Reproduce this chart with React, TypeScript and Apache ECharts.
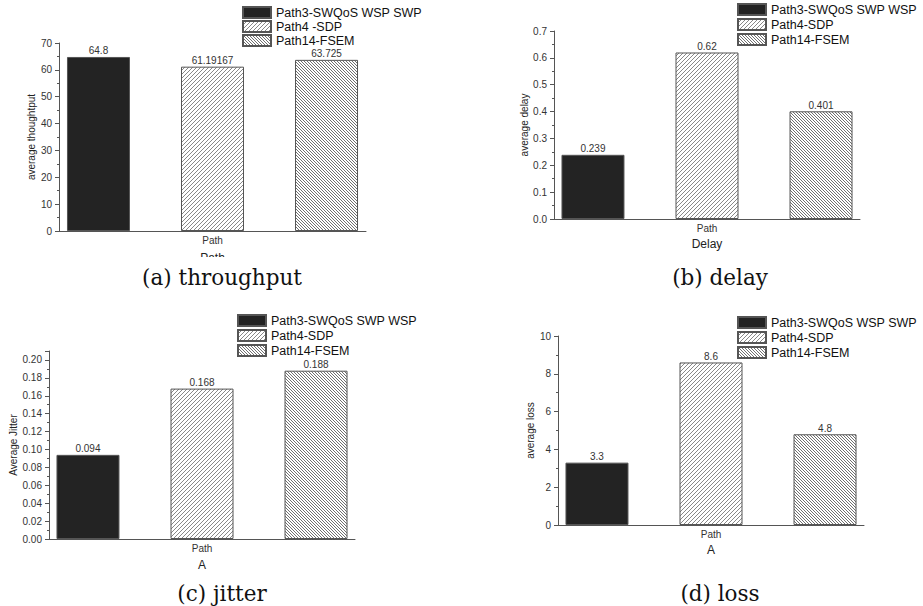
import React, { useEffect, useRef } from "react";
import * as echarts from "echarts";

const categories = ["Path"];
const legendA = ["Path3-SWQoS WSP SWP", "Path4 -SDP", "Path14-FSEM"];
const legendB = ["Path3-SWQoS SWP WSP", "Path4-SDP", "Path14-FSEM"];
const legendC = ["Path3-SWQoS SWP WSP", "Path4-SDP", "Path14-FSEM"];
const legendD = ["Path3-SWQoS WSP SWP", "Path4-SDP", "Path14-FSEM"];
const throughput = [64.8, 61.19167, 63.725];
const delay = [0.239, 0.62, 0.401];
const jitter = [0.094, 0.168, 0.188];
const loss = [3.3, 8.6, 4.8];
const yNames = ["average thoughtput", "average delay", "Average Jitter", "average loss"];
const xNames = ["Path", "Delay", "A", "A"];
const captions = ["(a) throughput", "(b) delay", "(c) jitter", "(d) loss"];

const SANS = "'Liberation Sans', Arial, sans-serif";
const SERIF = "'DejaVu Serif', 'Liberation Serif', serif";

const panels = [
  { left: 59, top: 43, width: 307, height: 188, max: 70, interval: 10, digits: 0, yGap: 21, xGap: 21, legend: legendA, legendPos: [242, 6], legendGap: 1, values: throughput, caption: [222, 277] },
  { left: 554, top: 31, width: 306, height: 188, max: 0.7, interval: 0.1, digits: 1, yGap: 25, xGap: 19, legend: legendB, legendPos: [737, 3], legendGap: 2, values: delay, caption: [720, 277] },
  { left: 49, top: 351, width: 306, height: 188, max: 0.21, interval: 0.02, digits: 2, yGap: 31, xGap: 20, legend: legendC, legendPos: [237, 314], legendGap: 2, values: jitter, caption: [222, 593] },
  { left: 558, top: 336, width: 306, height: 189, max: 10, interval: 2, digits: 0, yGap: 22, xGap: 19, legend: legendD, legendPos: [737, 316], legendGap: 2, values: loss, caption: [720, 593] },
];

function makeHatch(size: number, forward: boolean, ink: string): HTMLCanvasElement {
  const c = document.createElement("canvas");
  c.width = size;
  c.height = size;
  const ctx = c.getContext("2d")!;
  ctx.fillStyle = "#ffffff";
  ctx.fillRect(0, 0, size, size);
  ctx.fillStyle = ink;
  for (let i = 0; i < size; i++) {
    const x = forward ? size - 1 - i : i;
    ctx.fillRect(x, i, 1, 1);
  }
  return c;
}

export default function App() {
  const ref = useRef<HTMLDivElement>(null);
  useEffect(() => {
    if (!ref.current) return;
    const chart = echarts.init(ref.current, null, { renderer: "svg" });
    const axisColor = "#555";
    const hatchFwd = makeHatch(4, true, "#888888");
    const hatchBack = makeHatch(3, false, "#707070");
    const styles = [
      { color: "#232323", borderColor: "#555", borderWidth: 1 },
      { color: { image: hatchFwd, repeat: "repeat" }, borderColor: "#555", borderWidth: 1 },
      { color: { image: hatchBack, repeat: "repeat" }, borderColor: "#555", borderWidth: 1 },
    ];
    const option: any = {
      animation: false,
      backgroundColor: "#ffffff",
      textStyle: { fontFamily: SANS },
      grid: panels.map((p) => ({ left: p.left, top: p.top, width: p.width, height: p.height })),
      xAxis: panels.map((p, i) => ({
        type: "category",
        gridIndex: i,
        data: categories,
        name: xNames[i],
        nameLocation: "middle",
        nameGap: p.xGap,
        nameTextStyle: { fontSize: 12, color: "#222", fontFamily: SANS },
        axisLine: { lineStyle: { color: axisColor, width: 1 } },
        axisTick: { alignWithLabel: true, length: 4, lineStyle: { color: axisColor } },
        axisLabel: { margin: 4, fontSize: 10, color: "#333", fontFamily: SANS },
        splitLine: { show: false },
      })),
      yAxis: panels.map((p, i) => ({
        type: "value",
        gridIndex: i,
        min: 0,
        max: p.max,
        interval: p.interval,
        name: yNames[i],
        nameLocation: "middle",
        nameGap: p.yGap,
        nameTextStyle: { fontSize: 10, color: "#222", fontFamily: SANS },
        axisLine: { show: true, lineStyle: { color: axisColor, width: 1 } },
        axisTick: { show: true, length: 4, lineStyle: { color: axisColor } },
        minorTick: { show: true, splitNumber: 2, length: 2, lineStyle: { color: axisColor } },
        splitLine: { show: false },
        axisLabel: {
          fontSize: 10, color: "#333", margin: 7, fontFamily: SANS,
          showMaxLabel: i === 2 ? false : true,
          formatter: (v: number) => v.toFixed(p.digits),
        },
      })),
      legend: panels.map((p) => ({
        orient: "vertical",
        left: p.legendPos[0],
        top: p.legendPos[1],
        padding: 0,
        itemWidth: 28,
        itemHeight: 11,
        itemGap: p.legendGap,
        icon: "rect",
        data: p.legend,
        selectedMode: false,
        textStyle: { fontSize: 12.5, color: "#111", lineHeight: 11, fontFamily: SANS },
      })),
      series: panels.flatMap((p, i) =>
        p.values.map((v, k) => ({
          type: "bar",
          name: p.legend[k],
          xAxisIndex: i,
          yAxisIndex: i,
          data: [v],
          barWidth: 63,
          barGap: "81%",
          itemStyle: styles[k],
          label: { show: true, position: "top", distance: 1, fontSize: 10, color: "#333", fontFamily: SANS },
        }))
      ),
      graphic: [
        { type: "rect", z: 100, shape: { x: 185, y: 257, width: 55, height: 8 }, style: { fill: "#fff" } },
        ...panels.map((p, i) => ({
          type: "text",
          z: 101,
          x: p.caption[0],
          y: p.caption[1],
          style: { text: captions[i], fontSize: 21.5, fontFamily: SERIF, fill: "#111", align: "center", verticalAlign: "middle" },
        })),
      ],
    };
    chart.setOption(option);
    return () => chart.dispose();
  }, []);
  return (
    <div
      ref={ref}
      style={{ position: "absolute", left: 0, top: 0, width: 923, height: 606, background: "#fff" }}
    />
  );
}
